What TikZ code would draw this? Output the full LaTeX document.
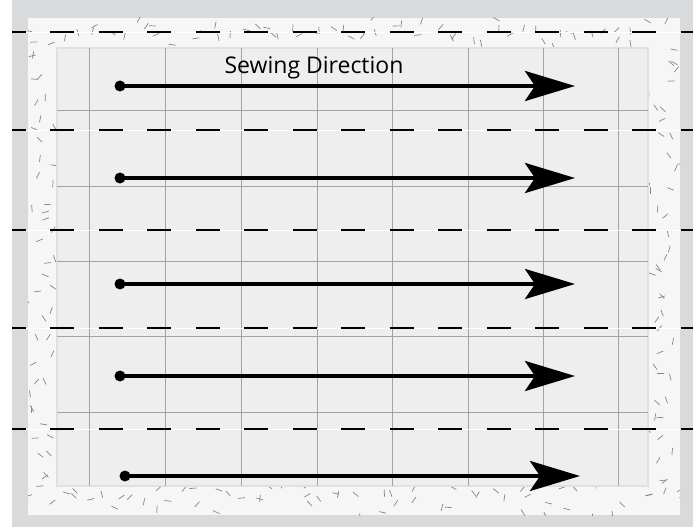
\documentclass[tikz,border=0pt]{standalone}
\usepackage{fontspec}
\newfontfamily\labelfont{Open Sans}
\usetikzlibrary{arrows.meta}

\definecolor{bggray}{HTML}{D9DADB}
\definecolor{panelfill}{HTML}{F6F6F6}
\definecolor{gridfill}{HTML}{EEEEEE}
\definecolor{gridedge}{HTML}{E0E0E0}
\definecolor{gridline}{HTML}{A3A3A3}
\definecolor{fleck}{HTML}{858585}

\tikzset{
  seam/.style={line width=2pt, dash pattern=on 24pt off 24.5pt, dash phase=10.5pt},
  seamthread/.style={white, line width=0.6pt},
  sewarrow/.style={line width=4pt, -{Stealth[length=50pt, width=30pt, inset=10pt]}},
  sewdot/.style={circle, fill=black, inner sep=0pt, minimum size=11pt},
  flecks/.style={fleck, line width=0.7pt},
}

\begin{document}
\begin{tikzpicture}[x=1pt, y=-1pt, font=\labelfont]
  \useasboundingbox (0,0) rectangle (699,527);
  % backdrop and speckled panel
  \fill[bggray] (12,0) rectangle (693,527);
  \fill[panelfill] (28,18) rectangle (680,515);
  \begin{scope}
    \clip (28,18) rectangle (680,515);
    % horizontal bands: y0/height/offset, flecks stepped along x
    \foreach \by/\bh/\bo in {19/30/13, 19/30/57, 485/29/41, 485/29/88}{
      \foreach \k in {1,...,33}{
        \pgfmathsetmacro{\fx}{28+20*(\k-0.5)+16*(frac(abs(sin(\k*78.233+\bo)*437.585))-0.5)}
        \pgfmathsetmacro{\fy}{\by+\bh*frac(abs(sin(\k*12.989+\bo*3)*437.585))}
        \pgfmathsetmacro{\fa}{360*frac(abs(sin(\k*39.346+\bo*7)*437.585))}
        \draw[flecks] (\fx,\fy) -- ++(\fa:7);
      }
    }
    % vertical bands: x0/width/offset, flecks stepped along y
    \foreach \bx/\bw/\bo in {29/28/77, 29/28/19, 649/30/29, 649/30/63}{
      \foreach \k in {1,...,22}{
        \pgfmathsetmacro{\fy}{48+20*(\k-0.5)+16*(frac(abs(sin(\k*78.233+\bo)*437.585))-0.5)}
        \pgfmathsetmacro{\fx}{\bx+\bw*frac(abs(sin(\k*12.989+\bo*3)*437.585))}
        \pgfmathsetmacro{\fa}{360*frac(abs(sin(\k*39.346+\bo*7)*437.585))}
        \draw[flecks] (\fx,\fy) -- ++(\fa:7);
      }
    }
  \end{scope}

  % fabric grid
  \draw[gridedge, fill=gridfill, line width=1.5pt] (57,48) rectangle (648,486);
  \foreach \gx in {89,165,241,317,392,468,543,618}
    \draw[gridline, line width=0.8pt] (\gx,48) -- (\gx,486);
  \foreach \gy in {110,186,261,336,412}
    \draw[gridline, line width=0.8pt] (57,\gy) -- (648,\gy);

  % seams
  \foreach \sy in {32,130,230,328,429}{
    \draw[seamthread] (12,\sy) -- (693,\sy);
    \draw[seam] (12,\sy) -- (693,\sy);
  }

  % sewing arrows
  \foreach \i/\ax/\bx/\ay in {1/120/575/86, 2/120/575/178, 3/120/575/284, 4/120/575/376, 5/125/580/476}{
    \node[sewdot] (s\i) at (\ax,\ay) {};
    \coordinate (e\i) at (\bx,\ay);
    \draw[sewarrow] (s\i.center) -- (e\i);
  }
  \node[anchor=base, font=\labelfont\fontsize{23}{27}\selectfont] (title) at (314,73.5) {Sewing Direction};
\end{tikzpicture}
\end{document}
